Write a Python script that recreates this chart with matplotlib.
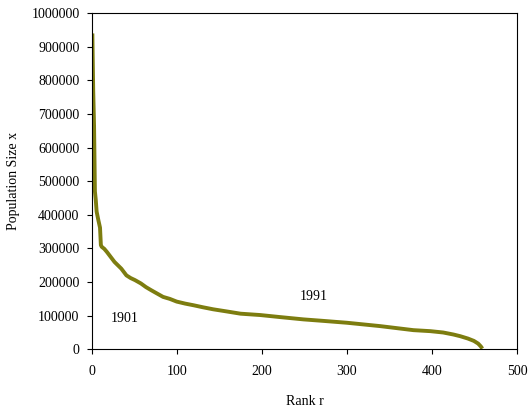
import matplotlib
matplotlib.use("Agg")
import matplotlib.pyplot as plt

# Rank-size data (rank r, population size x)
ranks = [1, 2, 3, 4, 5, 6, 8, 10, 11, 12, 15, 18, 21, 24, 27, 31, 35, 41, 46, 51,
         58, 64, 70, 77, 84, 92, 100, 110, 120, 131, 143, 158, 175, 198, 221, 249,
         270, 300, 339, 378, 398, 413, 425, 433, 442, 449, 454, 457, 459]
pop = [940000, 770000, 665000, 470000, 445000, 410000, 385000, 362000, 310000, 305000,
       299000, 290000, 280000, 270000, 260000, 250000, 240000, 220000, 212000, 206000,
       196000, 185000, 176000, 166000, 156000, 150000, 142000, 136000, 131000, 125000,
       119000, 113000, 106000, 102000, 96000, 89000, 85000, 79000, 69000, 57000,
       54000, 50000, 44000, 39000, 32000, 25000, 17000, 9000, 2000]

x_ticks = [0, 100, 200, 300, 400, 500]
y_ticks = [0, 100000, 200000, 300000, 400000, 500000, 600000, 700000, 800000, 900000, 1000000]

label_1901 = "1901"
label_1991 = "1991"

plt.rcParams['font.family'] = ['Liberation Serif', 'DejaVu Serif']

fig = plt.figure(figsize=(5.32, 4.15), dpi=100)
ax = fig.add_axes([0.172, 0.1583, 0.8004, 0.8097])

ax.plot(ranks, pop, color='#7d7d10', linewidth=2.8, solid_joinstyle='round',
        solid_capstyle='butt')

ax.set_xlim(0, 500)
ax.set_ylim(0, 1000000)
ax.set_xticks(x_ticks)
ax.set_yticks(y_ticks)
ax.set_xticklabels([str(v) for v in x_ticks])
ax.set_yticklabels([str(v) for v in y_ticks])
ax.tick_params(direction='out', length=3.6, width=0.8, labelsize=10, colors='black')
ax.tick_params(axis='x', pad=8)
ax.tick_params(axis='y', pad=5)
for s in ax.spines.values():
    s.set_linewidth(0.8)
    s.set_color('black')

ax.set_xlabel("Rank r", fontsize=10, labelpad=12)
ax.set_ylabel("Population Size x", fontsize=10, labelpad=8)

ax.text(22, 92000, label_1901, fontsize=10, va='center', ha='left')
ax.text(245, 156000, label_1991, fontsize=10, va='center', ha='left')

fig.savefig("out.png", dpi=100)
